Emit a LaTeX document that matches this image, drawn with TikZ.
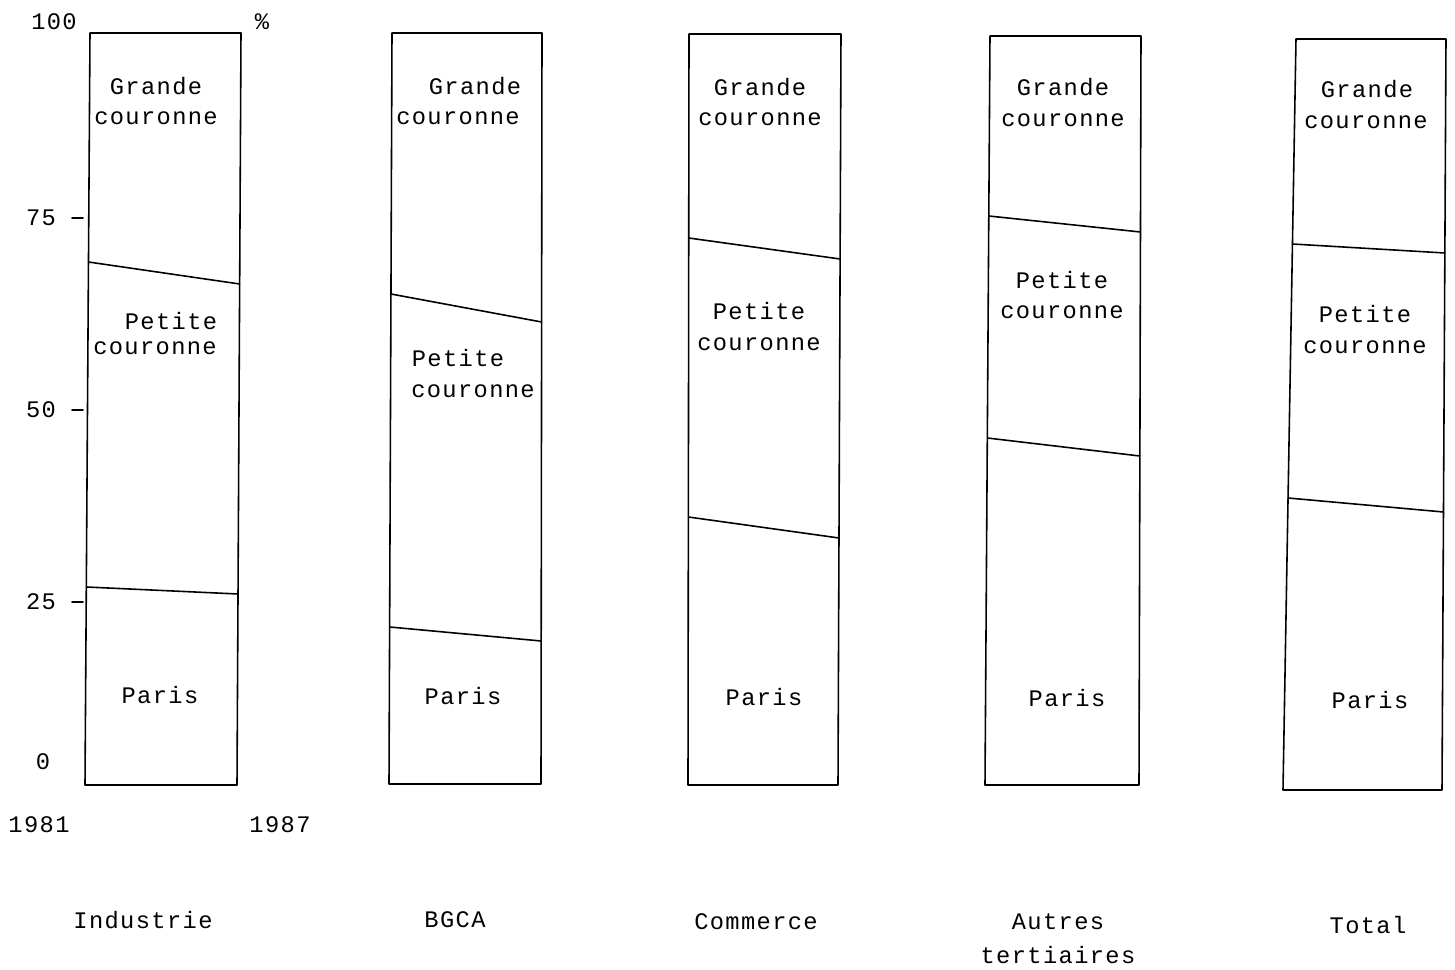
\documentclass[tikz,border=0pt]{standalone}
\usepackage{fontspec}
\usetikzlibrary{calc}
\newfontfamily\plotfont[LetterSpace=5.8]{Liberation Mono}
\tikzset{
  bar/.style={line width=0.9pt},
  limit/.style={line width=0.9pt},
  lab/.style={inner sep=0pt}
}
\begin{document}
\begin{tikzpicture}[line cap=round, line join=round, x=0.02cm, y=-0.02cm,
    font=\plotfont\fontsize{13.5}{16}\selectfont]
  \useasboundingbox (0,0) rectangle (1455,970);
  % the five columns and their two limits
  \foreach \n/\xa/\xb/\xc/\xd/\ya/\yb/\ua/\ub/\la/\lb in {
      ind/90/241/237/85/33/785/262/284/587/594,
      bgca/392/542/541/389/33/784/294/322/627/641,
      com/689/841/838/688/34/785/238/259/517/538,
      aut/990/1141/1139/985/36/785/216/232/438/456,
      tot/1296/1446/1442/1283/39/790/244/253/498/512} {
    \coordinate (\n-tl) at (\xa,\ya);
    \coordinate (\n-tr) at (\xb,\ya);
    \coordinate (\n-br) at (\xc,\yb);
    \coordinate (\n-bl) at (\xd,\yb);
    \draw[bar] (\n-tl) -- (\n-tr) -- (\n-br) -- (\n-bl) -- cycle;
    \coordinate (\n-ul) at ($(\n-tl)!{(\ua-\ya)/(\yb-\ya)}!(\n-bl)$);
    \coordinate (\n-ur) at ($(\n-tr)!{(\ub-\ya)/(\yb-\ya)}!(\n-br)$);
    \coordinate (\n-ll) at ($(\n-tl)!{(\la-\ya)/(\yb-\ya)}!(\n-bl)$);
    \coordinate (\n-lr) at ($(\n-tr)!{(\lb-\ya)/(\yb-\ya)}!(\n-br)$);
    \draw[limit] (\n-ul) -- (\n-ur);
    \draw[limit] (\n-ll) -- (\n-lr);
  }
  % zone labels
  \foreach \n/\x/\y in {ind/156/86, bgca/475/86, com/760/87, aut/1063/87, tot/1367/89}
    \node[lab] (\n-grande) at (\x,\y) {Grande};
  \foreach \n/\x/\y in {ind/156/118, bgca/458/118, com/760/119, aut/1063/120, tot/1366/122}
    \node[lab] (\n-gc) at (\x,\y) {couronne};
  \foreach \n/\x/\y in {ind/171/321, bgca/458/358, com/759/311, aut/1062/280, tot/1365/314}
    \node[lab] (\n-petite) at (\x,\y) {Petite};
  \foreach \n/\x/\y in {ind/155/348, bgca/473/391, com/759/344, aut/1062/312, tot/1365/347}
    \node[lab] (\n-pc) at (\x,\y) {couronne};
  \foreach \n/\x/\y in {ind/160/695, bgca/463/696, com/764/697, aut/1067/698, tot/1370/700}
    \node[lab] (\n-paris) at (\x,\y) {Paris};
  % axis
  \foreach \v/\x/\y in {100/54/22, 75/41/218, 50/41/410, 25/41/602, 0/43/762}
    \node[lab] (ax\v) at (\x,\y) {\v};
  \foreach \v in {75,50,25}
    \draw[limit] ($(ax\v)+(31,0)$) -- ($(ax\v)+(42,0)$);
  \node[lab] (pct) at (262,22) {\%};
  \node[lab] (y81) at (39,825) {1981};
  \node[lab] (y87) at (280,825) {1987};
  % sector names
  \node[lab] (ind) at (143,920) {Industrie};
  \node[lab] (bgca) at (455,920) {BGCA};
  \node[lab] (com) at (756,922) {Commerce};
  \node[lab] (aut) at (1058,922) {Autres};
  \node[lab] (aut2) at (1058,955) {tertiaires};
  \node[lab] (tot) at (1368,925) {Total};
\end{tikzpicture}
\end{document}
